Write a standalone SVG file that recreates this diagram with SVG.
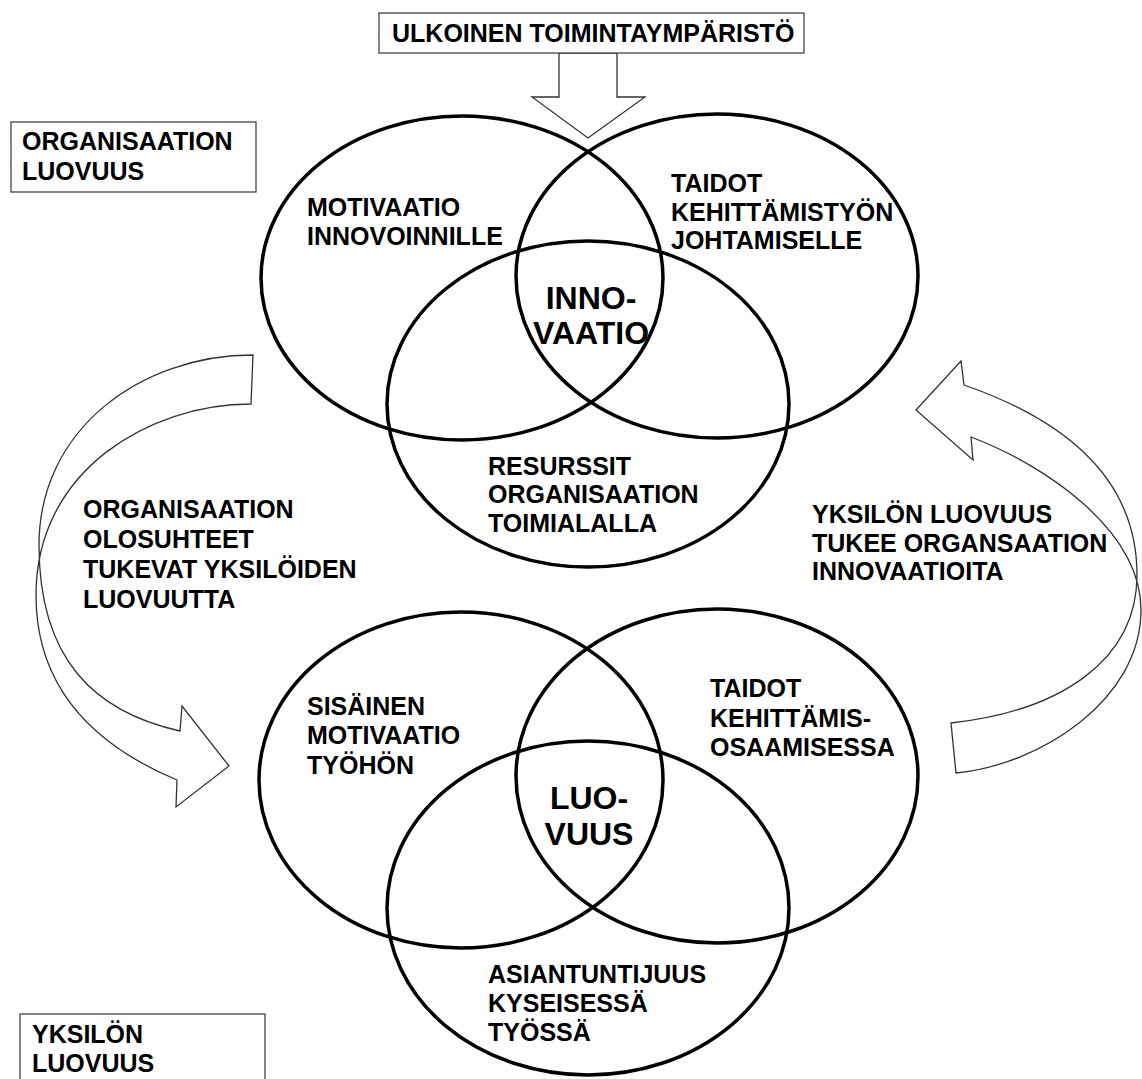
<svg xmlns="http://www.w3.org/2000/svg" width="1142" height="1079" viewBox="0 0 1142 1079">
  <style>
    .lbl { font-family: "Liberation Sans", Arial, sans-serif; font-weight: bold; font-size: 25px; fill: #000; }
    .core { font-family: "Liberation Sans", Arial, sans-serif; font-weight: bold; font-size: 32px; fill: #000; text-anchor: middle; }
    .set { fill: none; stroke: #000; stroke-width: 3.5; }
    .frame { fill: #fff; stroke: #444; stroke-width: 1.3; }
    .flow { fill: #fff; stroke: #333; stroke-width: 1.3; stroke-linejoin: miter; }
  </style>

  <rect width="1142" height="1079" fill="#fff"/>

  <!-- block arrows -->
  <g id="connectors">
    <!-- external environment into the organisation -->
    <polygon id="arrow-env" class="flow" points="559,53 559,97 532,97 588,138 645,97 617,97 617,53"/>
    <!-- organisation -> individual (left curved arrow) -->
    <path id="arrow-down" class="flow"
      d="M253,355 C140,355 39,430 39,545 C39,660 95,712 180,731
         L182,706 L229,766 L176,807 L177,780
         C110,752 36,700 36,595 C36,470 150,404 251,404 Z"/>
    <!-- individual -> organisation (right curved arrow) -->
    <path id="arrow-up" class="flow"
      d="M956,773 C1040,765 1141,700 1141,610 C1141,530 1045,465 971,437
         L973,460 L916,410 L961,361 L964,385
         C1059,418 1137,475 1137,575 C1137,660 1061,711 951,723 Z"/>
  </g>

  <!-- title box -->
  <g id="env">
    <rect class="frame" x="379" y="13" width="425" height="40"/>
    <text class="lbl" x="392" y="42" font-size="24.5">ULKOINEN TOIMINTAYMPÄRISTÖ</text>
  </g>

  <g id="org-title">
    <rect class="frame" x="11" y="122" width="245" height="70"/>
    <text class="lbl" x="22" y="150">ORGANISAATION</text>
    <text class="lbl" x="22" y="180">LUOVUUS</text>
  </g>

  <g id="ind-title">
    <rect class="frame" x="20" y="1014" width="245" height="80"/>
    <text class="lbl" x="32" y="1043">YKSILÖN</text>
    <text class="lbl" x="32" y="1072">LUOVUUS</text>
  </g>

  <!-- organisational creativity -->
  <g id="org-venn">
    <ellipse class="set" cx="462" cy="278" rx="201" ry="162"/>
    <ellipse class="set" cx="717" cy="276" rx="201" ry="162"/>
    <ellipse class="set" cx="588" cy="404" rx="201" ry="163"/>
  </g>
  <g id="org-motivation">
    <text class="lbl" x="307" y="216">MOTIVAATIO</text>
    <text class="lbl" x="307" y="245">INNOVOINNILLE</text>
  </g>
  <g id="org-skills">
    <text class="lbl" x="671" y="192">TAIDOT</text>
    <text class="lbl" x="671" y="221">KEHITTÄMISTYÖN</text>
    <text class="lbl" x="671" y="249">JOHTAMISELLE</text>
  </g>
  <g id="org-resources">
    <text class="lbl" x="488" y="475">RESURSSIT</text>
    <text class="lbl" x="488" y="503">ORGANISAATION</text>
    <text class="lbl" x="488" y="532">TOIMIALALLA</text>
  </g>
  <g id="innovation">
    <text class="core" x="591" y="309">INNO-</text>
    <text class="core" x="591" y="344">VAATIO</text>
  </g>

  <!-- flow labels -->
  <g id="label-down">
    <text class="lbl" x="83" y="518">ORGANISAATION</text>
    <text class="lbl" x="83" y="548">OLOSUHTEET</text>
    <text class="lbl" x="83" y="578">TUKEVAT YKSILÖIDEN</text>
    <text class="lbl" x="83" y="608">LUOVUUTTA</text>
  </g>
  <g id="label-up">
    <text class="lbl" x="812" y="523">YKSILÖN LUOVUUS</text>
    <text class="lbl" x="812" y="552">TUKEE ORGANSAATION</text>
    <text class="lbl" x="812" y="580">INNOVAATIOITA</text>
  </g>

  <!-- individual creativity -->
  <g id="ind-venn">
    <ellipse class="set" cx="461" cy="780" rx="202" ry="168"/>
    <ellipse class="set" cx="717" cy="776" rx="201" ry="167"/>
    <ellipse class="set" cx="588" cy="908" rx="201" ry="167"/>
  </g>
  <g id="ind-motivation">
    <text class="lbl" x="307" y="715">SISÄINEN</text>
    <text class="lbl" x="307" y="744">MOTIVAATIO</text>
    <text class="lbl" x="307" y="774">TYÖHÖN</text>
  </g>
  <g id="ind-skills">
    <text class="lbl" x="710" y="697">TAIDOT</text>
    <text class="lbl" x="710" y="727">KEHITTÄMIS-</text>
    <text class="lbl" x="710" y="756">OSAAMISESSA</text>
  </g>
  <g id="ind-expertise">
    <text class="lbl" x="488" y="983">ASIANTUNTIJUUS</text>
    <text class="lbl" x="488" y="1012">KYSEISESSÄ</text>
    <text class="lbl" x="488" y="1041">TYÖSSÄ</text>
  </g>
  <g id="creativity">
    <text class="core" x="589" y="809">LUO-</text>
    <text class="core" x="589" y="845">VUUS</text>
  </g>
</svg>
